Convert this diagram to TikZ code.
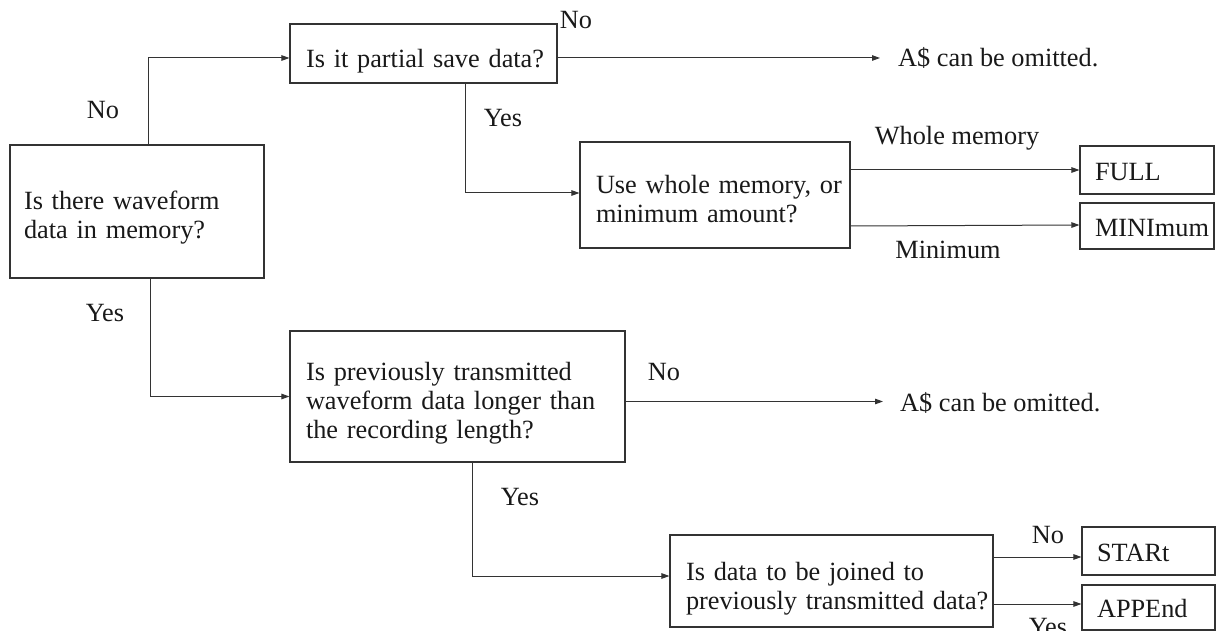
\documentclass[tikz,border=0pt]{standalone}
\usepackage{fontspec}
\setmainfont{Liberation Serif}
\usetikzlibrary{arrows.meta}
\newcommand\dstrut[1]{\rule{0pt}{#1}}
\begin{document}
\begin{tikzpicture}[x=1pt,y=-1pt,
  every node/.style={font=\fontsize{26.3}{29}\selectfont, text=black!90},
  qbox/.style={draw=black!80, line width=1.1pt, align=left, inner xsep=#1, inner ysep=0pt},
  qbox/.default=15pt,
  lbl/.style={inner sep=0pt},
  arr/.style={draw=black!80, line width=1pt, -{Triangle[length=8pt,width=5.5pt]}}
]
\clip (0,0) rectangle (1221,631);
\fill[white] (0,0) rectangle (1221,631);

% question boxes
\node[qbox=14pt, minimum width=254pt, minimum height=133pt, text width=226pt] (q1) at (137,211.5)
  {\dstrut{30.5pt}\mbox{Is there waveform}\\\mbox{data in memory?}};
\node[qbox=16pt, minimum width=267pt, minimum height=59pt, text width=235pt] (q2) at (423.5,53.5)
  {\dstrut{33pt}\mbox{Is it partial save data?}};
\node[qbox=16pt, minimum width=270pt, minimum height=106pt, text width=238pt] (q3) at (715,195)
  {\dstrut{26.5pt}\mbox{Use whole memory, or}\\\mbox{minimum amount?}};
\node[qbox=16pt, minimum width=335pt, minimum height=131pt, text width=303pt] (q4) at (457.5,396.5)
  {\dstrut{32.5pt}\mbox{Is previously transmitted}\\\mbox{waveform data longer than}\\\mbox{the recording length?}};
\node[qbox=16pt, minimum width=323pt, minimum height=92pt, text width=291pt] (q5) at (831.5,581)
  {\dstrut{33.5pt}\mbox{Is data to be joined to}\\\mbox{previously transmitted data?}};

% result boxes
\node[qbox=15pt, minimum width=134pt, minimum height=48pt, text width=104pt] (full) at (1147,170) {\dstrut{22pt}\mbox{FULL}};
\node[qbox=15pt, minimum width=134pt, minimum height=46pt, text width=104pt] (mini) at (1147,226) {\dstrut{21pt}\mbox{MINImum}};
\node[qbox=15pt, minimum width=133pt, minimum height=48pt, text width=103pt] (start) at (1148.5,551) {\dstrut{22pt}\mbox{STARt}};
\node[qbox=15pt, minimum width=133pt, minimum height=45pt, text width=103pt] (append) at (1148.5,607.5) {\dstrut{21pt}\mbox{APPEnd}};

% outcome texts
\node[lbl, anchor=west] (o1) at (898,58) {A\$ can be omitted.};
\node[lbl, anchor=west] (o2) at (900,403) {A\$ can be omitted.};

% labels
\node[lbl] (l1) at (103,110) {No};
\node[lbl] (l2) at (503,118) {Yes};
\node[lbl] (l3) at (576,20) {No};
\node[lbl] (l4) at (957,138) {Whole memory};
\node[lbl] (l5) at (948,250) {Minimum};
\node[lbl] (l6) at (105,313) {Yes};
\node[lbl] (l7) at (664,372) {No};
\node[lbl] (l8) at (520,497) {Yes};
\node[lbl] (l9) at (1048,535) {No};
\node[lbl] (l10) at (1048,627) {Yes};

% connectors
\coordinate (c1) at ([xshift=11pt]q1.north);
\draw[arr] (c1) |- ([yshift=-4.5pt]q2.west);

\coordinate (c2) at ([yshift=-4.5pt]q2.east);
\draw[arr, shorten >=18pt] (c2) -- (c2 -| o1.west);

\coordinate (c3) at ([xshift=41.5pt]q2.south);
\draw[arr] (c3) |- ([yshift=2pt]q3.west);

\draw[arr] (q3.east |- full.west) -- (full.west);
\draw[arr] (q3.east |- mini.west) -- ([yshift=1pt]mini.west);

\coordinate (c4) at ([xshift=13pt]q1.south);
\draw[arr] (c4) |- (q4.west);

\coordinate (c5) at ([yshift=-5pt]q4.east);
\draw[arr, shorten >=17pt] (c5) -- (c5 -| o2.west);

\coordinate (c6) at ([xshift=15pt]q4.south);
\draw[arr] (c6) |- ([yshift=5pt]q5.west);

\coordinate (c7) at ([yshift=24pt]q5.east);
\draw[arr] (c7) -- (c7 -| start.west);
\coordinate (c8) at ([yshift=-23pt]q5.east);
\draw[arr] (c8) -- (c8 -| append.west);
\end{tikzpicture}
\end{document}
